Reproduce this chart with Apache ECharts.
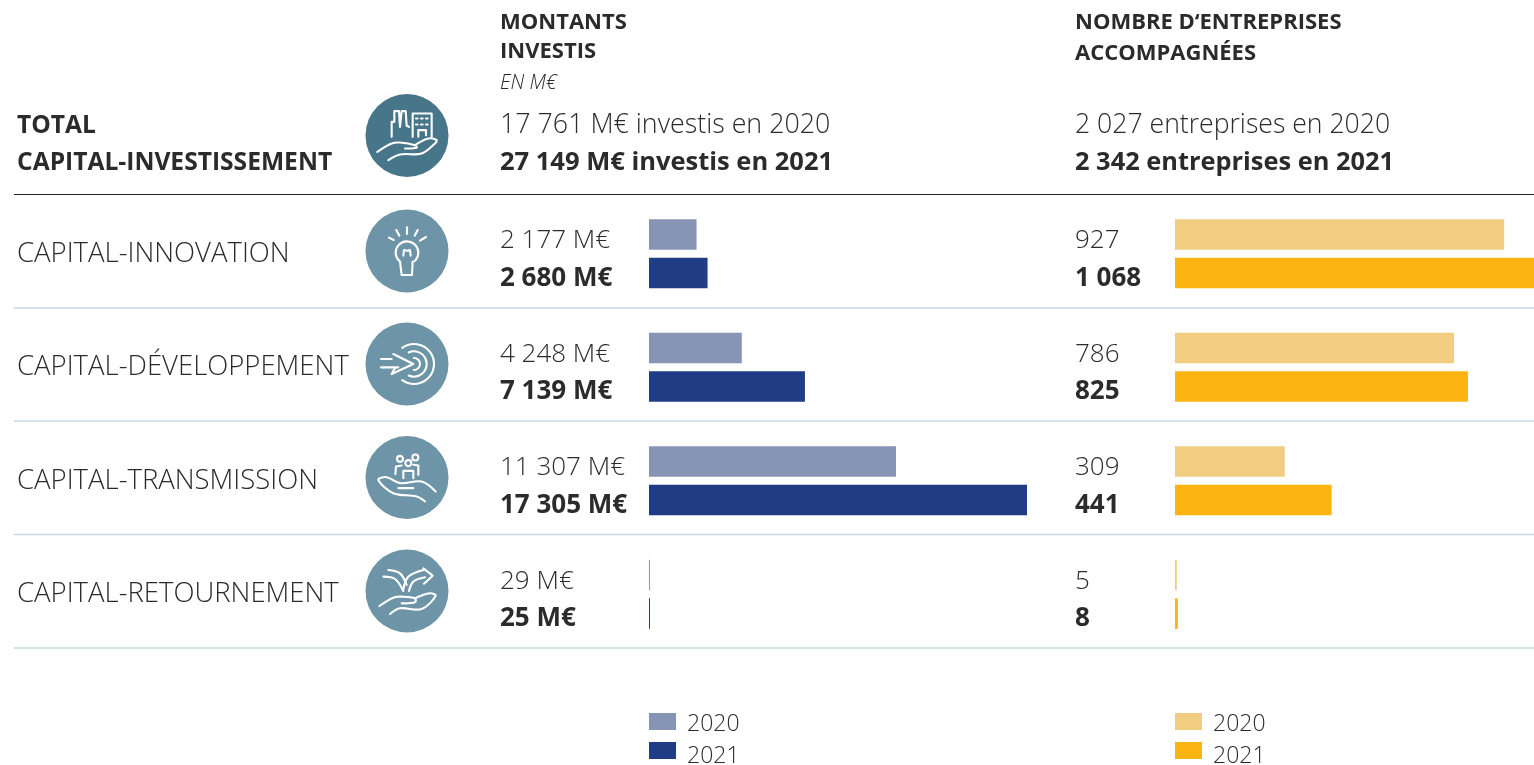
<!DOCTYPE html>
<html lang="fr">
<head>
<meta charset="utf-8">
<title>Capital-investissement</title>
<style>html,body{margin:0;padding:0;background:#fff}#c{width:1534px;height:765px}</style>
<script src="https://cdn.jsdelivr.net/npm/echarts@6/dist/echarts.min.js"></script>
</head>
<body>
<div id="c"></div>
<script>
const categories = ['CAPITAL-INNOVATION', 'CAPITAL-DÉVELOPPEMENT', 'CAPITAL-TRANSMISSION', 'CAPITAL-RETOURNEMENT'];
const invest2020 = [2177, 4248, 11307, 29];
const invest2021 = [2680, 7139, 17305, 25];
const firms2020 = [927, 786, 309, 5];
const firms2021 = [1068, 825, 441, 8];
const investLabel2020 = 'Montants 2020';
const investLabel2021 = 'Montants 2021';
const firmsLabel2020 = 'Entreprises 2020';
const firmsLabel2021 = 'Entreprises 2021';

const FONT = '"Open Sans"';
const INK = '#2b2b2b';
const fr = v => String(v).replace(/\B(?=(\d{3})+$)/g, ' ');

function barSeries(name, data, grid, color, bold, labelX, unit) {
  return {
    type: 'bar', name, data, xAxisIndex: grid, yAxisIndex: grid,
    barWidth: 30.5, barGap: '27%', barMinHeight: 1, clip: true,
    itemStyle: { color }, silent: true,
    label: {
      show: true, position: [labelX, '50%'], align: 'left', verticalAlign: 'middle',
      offset: [0, bold ? 5 : 6.5],
      fontFamily: FONT, fontSize: 26, fontWeight: bold ? 700 : 300, color: INK,
      formatter: p => fr(p.value) + unit
    }
  };
}

function text(str, x, y, size, weight, style) {
  return { type: 'text', x, y, silent: true, z: 5, style: {
    text: str, fontFamily: FONT, fontSize: size, fontWeight: weight,
    fontStyle: style || 'normal', fill: INK, verticalAlign: 'middle', align: 'left' } };
}
function rule(y, color, w) {
  return { type: 'line', silent: true, z: 1, shape: { x1: 14, y1: y, x2: 1534, y2: y },
    style: { stroke: color, lineWidth: w } };
}

// Icon strokes, in 3x local units around each disc centre
const iconDefs = [
  { cx: 407, cy: 135.5, c: '#47758a', o: [171, 151],
    curves: [
      [[82,200],[125,175],[150,172],[195,180],[200,188],[165,190]],
      [[195,180],[235,160],[260,165],[255,175],[215,205],[150,208],[115,225]]
    ],
    lines: [
      [[125,155],[125,110],[133,110],[133,78],[147,78],[150,125],[155,78],[167,78],[170,122],[177,125]],
      [[188,155],[188,85],[245,85],[245,155]],
      [[205,155],[205,135],[228,135],[228,150]],
      [[198,100],[203,100]], [[213,100],[218,100]], [[228,100],[233,100]],
      [[198,118],[203,118]], [[213,118],[218,118]], [[228,118],[233,118]]
    ], rings: [], arcs: [] },
  { cx: 407, cy: 251, c: '#6d94a7', o: [171, 498], curves: [],
    lines: [
      [[117,458],[131,465]], [[139,435],[148,452]], [[171,427],[171,447]],
      [[203,435],[194,452]], [[228,456],[210,467]],
      [[150,530],[155,570],[185,570]],
      [[188,530],[186,570]],
      [[160,512],[162,495],[172,497],[180,495],[182,512]]
    ], rings: [], arcs: [[171, 503, 34, 2.3, 0.85]] },
  { cx: 407, cy: 364, c: '#6d94a7', o: [171, 148], curves: [],
    lines: [
      [[93,133],[125,133]], [[93,158],[145,158]],
      [[130,118],[190,148],[125,178],[135,160]]
    ], rings: [], arcs: [[192,148,60,-2.2,2.2],[192,148,38,-2.0,2.0],[192,148,18,-1.6,1.6]] },
  { cx: 407, cy: 477.5, c: '#6d94a7', o: [171, 488],
    curves: [
      [[257,530],[215,500],[150,505],[110,487],[85,495],[130,535],[200,545],[225,560]]
    ],
    lines: [
      [[136,478],[138,455],[155,452]],
      [[160,490],[160,468],[190,468],[190,490]],
      [[190,450],[205,452],[205,480]],
      [[145,520],[190,520]]
    ], rings: [[150,432,9],[175,445,9],[196,428,9]], arcs: [] },
  { cx: 407, cy: 591, c: '#6d94a7', o: [171, 828],
    curves: [
      [[100,785],[135,792],[160,828]],
      [[115,765],[150,775],[170,810]],
      [[177,828],[190,800],[225,787]],
      [[160,822],[175,785],[220,765]],
      [[88,873],[130,848],[155,845],[195,850],[195,862],[155,865]],
      [[195,850],[240,835],[257,842],[215,882],[150,880],[120,897]]
    ],
    lines: [
      [[220,760],[248,782],[222,806]]
    ], rings: [], arcs: [] }
];
function iconEl(d) {
  const sx = p => (p[0] - d.o[0]) / 3, sy = p => (p[1] - d.o[1]) / 3;
  const strokeStyle = { stroke: '#fff', lineWidth: 2.1, fill: null, lineJoin: 'round', lineCap: 'round' };
  const children = [{ type: 'circle', shape: { cx: 0, cy: 0, r: 41.5 }, style: { fill: d.c } }];
  d.lines.forEach(l => children.push({ type: 'polyline', z: 3, shape: { points: l.map(p => [sx(p), sy(p)]) }, style: strokeStyle }));
  d.curves.forEach(l => children.push({ type: 'polyline', z: 3, shape: { points: l.map(p => [sx(p), sy(p)]), smooth: 0.35 }, style: strokeStyle }));
  d.rings.forEach(r => children.push({ type: 'circle', z: 3, shape: { cx: sx(r), cy: sy(r), r: r[2] / 3 }, style: strokeStyle }));
  d.arcs.forEach(a => children.push({ type: 'arc', z: 3, shape: { cx: sx(a), cy: sy(a), r: a[2] / 3, startAngle: a[3], endAngle: a[4], clockwise: true }, style: strokeStyle }));
  return { type: 'group', x: d.cx, y: d.cy, silent: true, z: 3, children };
}

const graphics = [
  rule(194.5, '#222222', 1),
  rule(308, '#c6d9e1', 1.6), rule(421, '#c6d9e1', 1.6), rule(534.5, '#c6d9e1', 1.6), rule(648, '#c6d9e1', 1.6),
  text('TOTAL', 17, 126, 24.6, 700),
  text('CAPITAL-INVESTISSEMENT', 17, 163, 24.6, 700),
  text('MONTANTS', 500, 23, 22, 700),
  text('INVESTIS', 500, 52, 22, 700),
  text('EN M€', 500, 83, 20, 300, 'italic'),
  text('17 761 M€ investis en 2020', 500, 125, 26.8, 300),
  text('27 149 M€ investis en 2021', 500, 163, 25.5, 700),
  text('NOMBRE D‘ENTREPRISES', 1075, 23, 22, 700),
  text('ACCOMPAGNÉES', 1075, 54, 22, 700),
  text('2 027 entreprises en 2020', 1075, 125, 26.6, 300),
  text('2 342 entreprises en 2021', 1075, 163, 25.4, 700)
].concat(iconDefs.map(iconEl));

function legend(left, top, name, boxHeight) {
  return {
    left, top, itemWidth: 27, itemHeight: 17, padding: 0,
    icon: 'rect', selectedMode: false, data: [name],
    formatter: n => '{s|}{t|' + n.slice(-4) + '}',
    textStyle: {
      fontFamily: FONT, fontSize: 23, fontWeight: 300, color: INK,
      rich: {
        s: { width: 6, height: boxHeight, lineHeight: boxHeight },
        t: { fontFamily: FONT, fontSize: 23, fontWeight: 300, color: INK, lineHeight: 17, height: 17, verticalAlign: 'bottom' }
      }
    }
  };
}

const chart = echarts.init(document.getElementById('c'), null, { renderer: 'canvas' });
chart.setOption({
  animation: false,
  backgroundColor: '#fff',
  graphic: { elements: graphics },
  legend: [
    legend(649, 710, investLabel2020, 23), legend(649, 736, investLabel2021, 29),
    legend(1175, 710, firmsLabel2020, 23), legend(1175, 736, firmsLabel2021, 29)
  ],
  grid: [
    { left: 649, top: 197, width: 378, height: 454 },
    { left: 1175, top: 197, width: 359, height: 454 }
  ],
  xAxis: [
    { gridIndex: 0, type: 'value', min: 0, max: 17305, show: false },
    { gridIndex: 1, type: 'value', min: 0, max: 1011, show: false }
  ],
  yAxis: [
    { gridIndex: 0, type: 'category', inverse: true, data: categories,
      axisLine: { show: false }, axisTick: { show: false },
      axisLabel: { align: 'left', margin: 632, fontFamily: FONT, fontSize: 27.5, fontWeight: 300, color: INK, padding: [0, 0, 5, 0] } },
    { gridIndex: 1, type: 'category', inverse: true, data: categories,
      axisLine: { show: false }, axisTick: { show: false }, axisLabel: { show: false } }
  ],
  series: [
    barSeries(investLabel2020, invest2020, 0, '#8694b5', false, -149, ' M€'),
    barSeries(investLabel2021, invest2021, 0, '#203c84', true, -149, ' M€'),
    barSeries(firmsLabel2020, firms2020, 1, '#f0cd80', false, -100, ''),
    barSeries(firmsLabel2021, firms2021, 1, '#fbb411', true, -100, '')
  ]
});
</script>
</body>
</html>
